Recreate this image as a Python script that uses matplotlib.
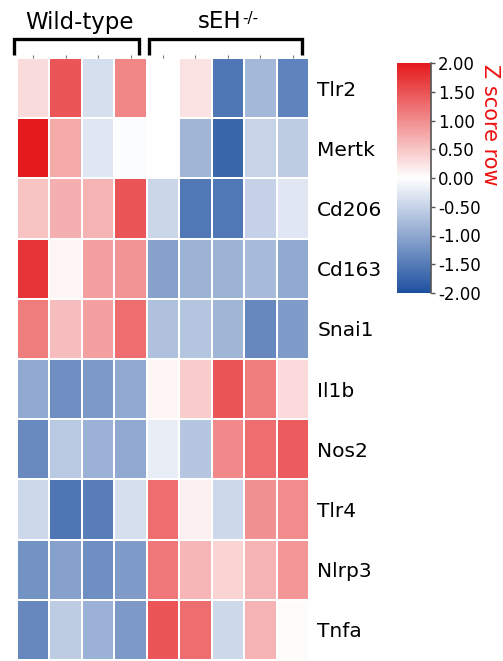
import numpy as np
import matplotlib
matplotlib.use("Agg")
import matplotlib.pyplot as plt
from matplotlib.colors import LinearSegmentedColormap
from matplotlib.lines import Line2D
from matplotlib.ticker import FormatStrFormatter

plt.rcParams['font.family'] = ['DejaVu Sans']
plt.rcParams['axes.unicode_minus'] = False

genes = ["Tlr2", "Mertk", "Cd206", "Cd163", "Snai1", "Il1b", "Nos2", "Tlr4", "Nlrp3", "Tnfa"]
group_wt = "Wild-type"
group_ko = "sEH"
group_ko_sup = "-/-"

# row z-scores: 4 wild-type samples followed by 5 sEH-/- samples
tlr2 = [0.31, 1.47, -0.36, 1.05, 0.00, 0.24, -1.56, -0.80, -1.42]
mertk = [2.00, 0.74, -0.27, -0.04, 0.00, -0.84, -1.75, -0.49, -0.58]
cd206 = [0.52, 0.70, 0.66, 1.48, -0.46, -1.54, -1.54, -0.53, -0.27]
cd163 = [1.75, 0.09, 0.83, 0.93, -1.07, -0.86, -0.86, -0.77, -0.98]
snai1 = [1.14, 0.57, 0.83, 1.25, -0.71, -0.67, -0.84, -1.35, -1.13]
il1b = [-0.98, -1.27, -1.16, -0.98, 0.09, 0.44, 1.48, 1.14, 0.32]
nos2 = [-1.33, -0.62, -0.89, -0.98, -0.20, -0.65, 1.02, 1.25, 1.42]
tlr4 = [-0.44, -1.57, -1.47, -0.36, 1.25, 0.13, -0.44, 0.96, 1.00]
nlrp3 = [-1.22, -1.07, -1.27, -1.13, 1.18, 0.64, 0.39, 0.66, 0.92]
tnfa = [-1.35, -0.58, -0.89, -1.16, 1.48, 1.27, -0.44, 0.66, 0.04]

cbar_ticks = [-2.0, -1.5, -1.0, -0.5, 0.0, 0.5, 1.0, 1.5, 2.0]

Z = np.array([tlr2, mertk, cd206, cd163, snai1, il1b, nos2, tlr4, nlrp3, tnfa])

cmap = LinearSegmentedColormap.from_list(
    "bwr_z", [(0.0, "#1e50a0"), (0.5, "#ffffff"), (1.0, "#e41a1c")])

W, H = 503, 661
fig = plt.figure(figsize=(W / 100, H / 100), dpi=100)

def fx(px):
    return px / W

def fy(py):
    return 1 - py / H

# heatmap
ax = fig.add_axes([fx(17), fy(660), fx(309) - fx(17), fy(58) - fy(660)])
mesh = ax.pcolormesh(Z, cmap=cmap, vmin=-2, vmax=2, edgecolors="white", linewidth=1.2)
ax.set_xlim(0, Z.shape[1])
ax.set_ylim(Z.shape[0], 0)
for s in ax.spines.values():
    s.set_visible(False)
ax.set_xticks(np.arange(Z.shape[1]) + 0.5)
ax.set_xticklabels([])
ax.tick_params(axis="x", top=True, bottom=False, length=2, width=0.8, color="#777777")
ax.set_yticks(np.arange(Z.shape[0]) + 0.5)
ax.set_yticklabels(genes, fontsize=14.5)
ax.yaxis.tick_right()
ax.tick_params(axis="y", length=0, pad=6)

# group brackets and titles
def bracket(x0, x1, y_top=39, y_bot=55):
    kw = dict(color="black", lw=2.4, solid_capstyle="butt", solid_joinstyle="miter")
    fig.add_artist(Line2D([fx(x0), fx(x0), fx(x1), fx(x1)],
                          [fy(y_bot), fy(y_top), fy(y_top), fy(y_bot)], **kw))

bracket(14, 139)
bracket(149, 302)
fig.text(fx(79), fy(22), group_wt, fontsize=16.5, ha="center", va="center")
fig.text(fx(241), fy(22), group_ko, fontsize=16.5, ha="right", va="center")
fig.text(fx(242), fy(18), group_ko_sup, fontsize=11, ha="left", va="center")

# colour scale
cax = fig.add_axes([fx(397), fy(293), fx(431) - fx(397), fy(63) - fy(293)])
cb = fig.colorbar(mesh, cax=cax, ticks=cbar_ticks)
cb.outline.set_visible(False)
cax.plot([1, 1], [0, 1], transform=cax.transAxes, color="#555555", lw=1.2, clip_on=False)
cax.yaxis.set_major_formatter(FormatStrFormatter("%.2f"))
cax.tick_params(labelsize=12, length=3, width=1, color="#555555", pad=2)

fig.text(fx(490), fy(64), "Z score row", color="#ee1111", fontsize=15,
         rotation=270, ha="center", va="top")

fig.savefig("out.png", dpi=100)
